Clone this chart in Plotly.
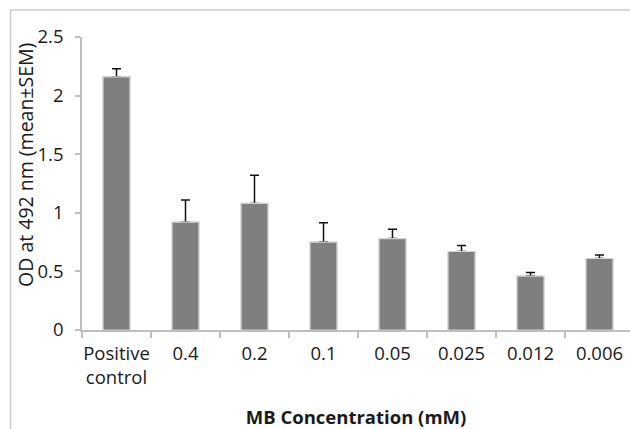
import plotly.graph_objects as go

categories = ["Positive<br>control", "0.4", "0.2", "0.1", "0.05", "0.025", "0.012", "0.006"]
od_mean = [2.16, 0.92, 1.08, 0.75, 0.78, 0.67, 0.46, 0.61]
od_sem = [0.07, 0.19, 0.24, 0.165, 0.08, 0.05, 0.03, 0.03]
y_ticks = [0, 0.5, 1, 1.5, 2, 2.5]

FONT = "Open Sans"
BAR = "#7f7f7f"
EDGE = "#d4d4d4"
TXT = "#1a1a1a"

fig = go.Figure()
# bars carrying the (upper-only) error bars
fig.add_trace(go.Bar(
    x=categories, y=od_mean, width=0.39,
    marker=dict(color=BAR, line=dict(color=EDGE, width=1.2)),
    error_y=dict(type="data", symmetric=False, array=od_sem,
                 arrayminus=[0] * len(od_sem),
                 color="#111111", thickness=1.5, width=4.5),
    showlegend=False, hoverinfo="skip",
))
# same bars drawn on top to hide the lower cap of the error bars
fig.add_trace(go.Bar(
    x=categories, y=od_mean, width=0.39,
    marker=dict(color=BAR, line=dict(color=EDGE, width=1.2)),
    showlegend=False,
))

W, H = 630, 429
L, R, T, B = 82, 0, 37, 99
pw, ph = W - L - R, H - T - B

fig.update_layout(
    width=W, height=H,
    margin=dict(l=L, r=R, t=T, b=B, pad=0),
    barmode="overlay",
    paper_bgcolor="white", plot_bgcolor="white",
    font=dict(family=FONT, size=18, color=TXT),
    xaxis=dict(
        type="category",
        range=[-0.5, 7.5 - 4 / 69],
        showline=True, linecolor="#bfbfbf", linewidth=1.5,
        ticks="outside", tickson="boundaries", ticklen=6, tickcolor="#bfbfbf", tickwidth=1.5,
        tickangle=0, ticklabelstandoff=6,
        showgrid=False, zeroline=False,
        tickfont=dict(family=FONT, size=18.5, color=TXT),
        title=dict(text="<b>MB Concentration (mM)</b>",
                   font=dict(family=FONT, size=18.5, color=TXT), standoff=24),
        automargin=False,
    ),
    yaxis=dict(
        range=[0, 2.5], tickvals=y_ticks,
        showline=True, linecolor="#bfbfbf", linewidth=1.5,
        ticks="outside", ticklen=5, tickcolor="#bfbfbf", tickwidth=1.5,
        showgrid=False, zeroline=False,
        tickfont=dict(family=FONT, size=18.5, color=TXT),
        ticklabelstandoff=8,
        automargin=False,
    ),
    annotations=[dict(
        text="OD at 492 nm (mean±SEM)", textangle=-90,
        xref="paper", yref="paper",
        x=(25 - L) / pw, y=(H - B - 165) / ph,
        xanchor="center", yanchor="middle", showarrow=False,
        font=dict(family=FONT, size=19.5, color=TXT),
    )],
    shapes=[dict(
        type="rect", xref="paper", yref="paper", layer="below",
        x0=(10.5 - L) / pw, x1=1.05, y0=-0.5, y1=(H - B - 10) / ph,
        line=dict(color="#cccccc", width=1.5), fillcolor="rgba(0,0,0,0)",
    )],
)

fig.write_html("out.html")
